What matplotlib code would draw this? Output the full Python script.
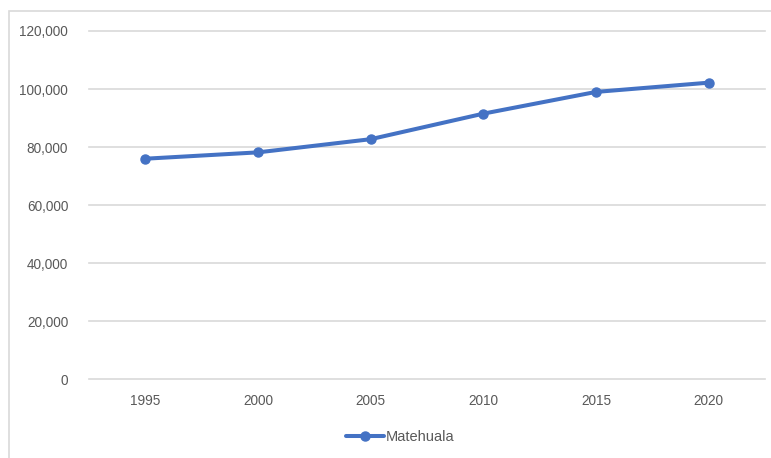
import matplotlib.pyplot as plt
from matplotlib.patches import Rectangle
from matplotlib.ticker import FuncFormatter

# data
years = ["1995", "2000", "2005", "2010", "2015", "2020"]
poblacion = [76000, 78187, 82726, 91522, 99015, 102199]
serie = "Matehuala"

plt.rcParams["font.family"] = ["Liberation Sans", "DejaVu Sans"]

BLUE = "#4472C4"
GRID = "#D9D9D9"
TXT = "#595959"

fig = plt.figure(figsize=(7.71, 4.58), dpi=100)
ax = fig.add_axes([89 / 771, 1 - 379.3 / 458, (765 - 89) / 771, (379.3 - 31) / 458])

x = list(range(len(years)))
ax.plot(x, poblacion, color=BLUE, lw=2.9, marker="o", ms=6.5, label=serie,
        solid_capstyle="round")

ax.set_xlim(-0.5, len(years) - 0.5)
ax.set_ylim(0, 120000)
ax.set_yticks(range(0, 120001, 20000))
ax.yaxis.set_major_formatter(FuncFormatter(lambda v, p: f"{int(v):,}"))
ax.set_xticks(x)
ax.set_xticklabels(years)

ax.grid(axis="y", color=GRID, lw=1.2)
for gl in ax.get_ygridlines():
    gl.set_clip_on(False)
ax.set_axisbelow(True)
for s in ax.spines.values():
    s.set_visible(False)
ax.tick_params(axis="both", length=0, colors=TXT, labelsize=9.8)
ax.tick_params(axis="y", pad=15)
ax.tick_params(axis="x", pad=10.5)

leg = ax.legend(loc="center", bbox_to_anchor=(0.46, -0.165), frameon=False,
                fontsize=10.5, handlelength=2.6, handletextpad=0.1)
for t in leg.get_texts():
    t.set_color(TXT)

# chart frame (Excel style), right and bottom edges fall outside the image
fig.patches.append(Rectangle((9 / 771, -0.05), 1.2, 1 - 11 / 458 + 0.05,
                             transform=fig.transFigure, fill=False,
                             edgecolor=GRID, lw=1.2))

plt.savefig("out.png", dpi=100)
